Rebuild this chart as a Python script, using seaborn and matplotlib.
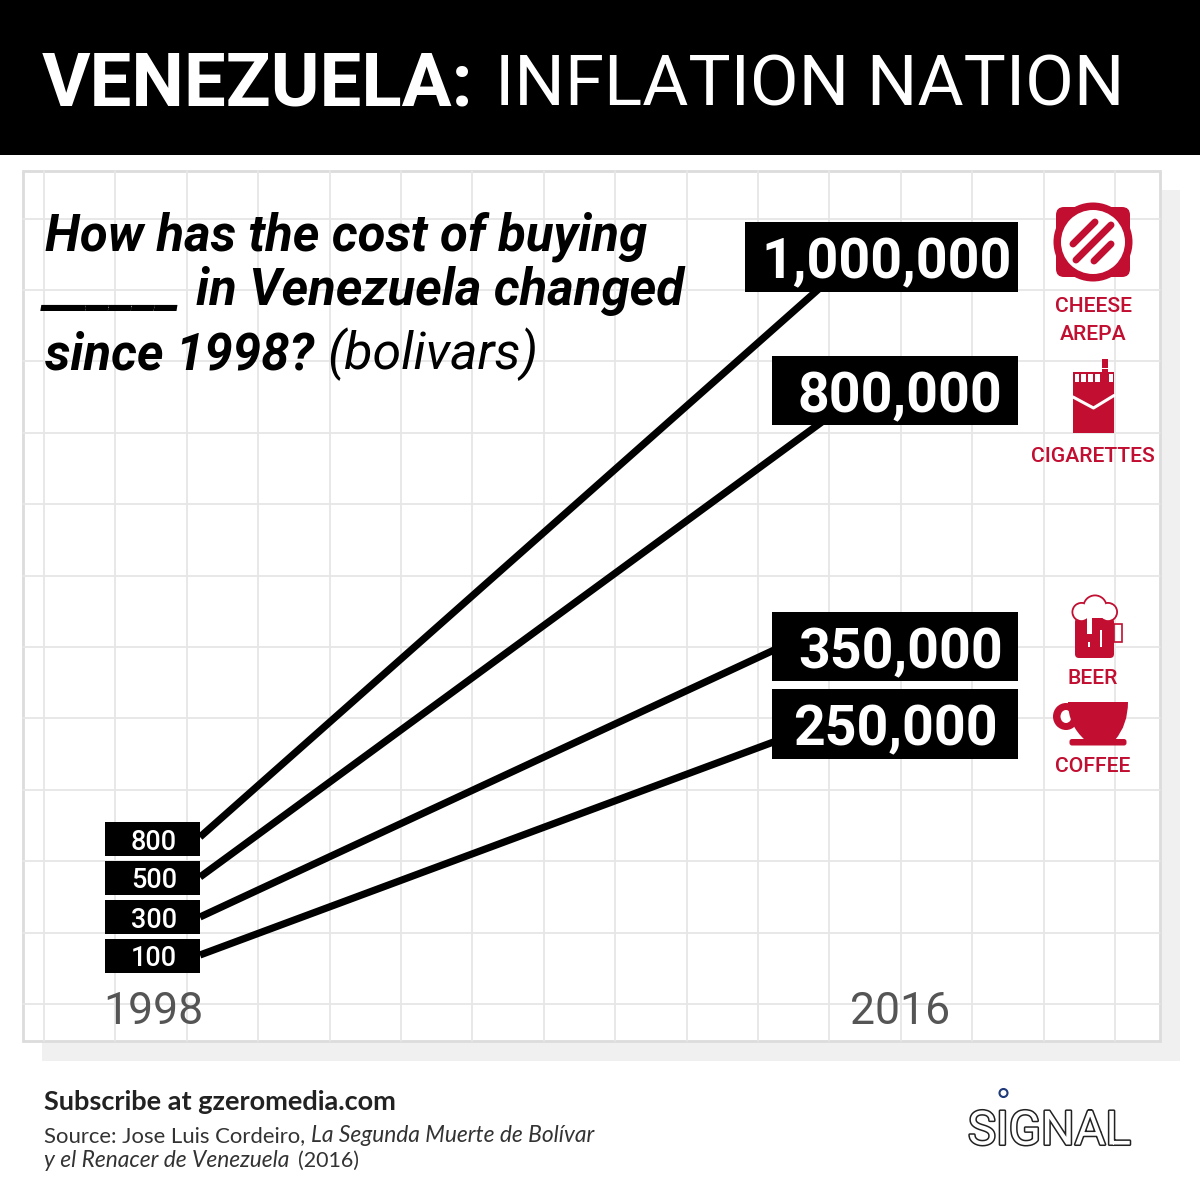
import numpy as np
import pandas as pd
import matplotlib
matplotlib.use("Agg")
import matplotlib.pyplot as plt
import seaborn as sns
import matplotlib.patheffects as pe
from matplotlib.patches import Rectangle, Circle, Ellipse, FancyBboxPatch, PathPatch
from matplotlib.path import Path

# ---- data ----
years = [1998, 2016]
items = ["CHEESE AREPA", "CIGARETTES", "BEER", "COFFEE"]
cost_1998 = [800, 500, 300, 100]
cost_2016 = [1000000, 800000, 350000, 250000]

# the graphic is not to scale: each price has its own height on the page
scale_values = [0, 100, 300, 500, 800, 250000, 350000, 800000, 1000000, 2000000]
scale_pixels = [1200, 955, 917, 877, 837, 721, 624, 416, 279, 0]

RED = "#c10e31"
GRID = "#e6e6e6"

sns.set_theme(style="white")
fig = plt.figure(figsize=(12, 12), dpi=100, facecolor="white")

# ---- background layer (page pixels) ----
bg = fig.add_axes([0, 0, 1, 1], zorder=0)
bg.set_xlim(0, 1200)
bg.set_ylim(1200, 0)
bg.axis("off")
bg.add_patch(Rectangle((42, 190), 1138, 871, fc="#f0f0f0", ec="none"))
bg.add_patch(Rectangle((23, 171), 1137, 870, fc="white", ec="none"))
for k in range(16):
    gx = 44 + k * 71.4
    bg.plot([gx, gx], [171, 1041], color=GRID, lw=1.3)
for k in range(12):
    gy = 218.6 + k * 71.4
    bg.plot([23, 1160], [gy, gy], color=GRID, lw=1.3)
bg.add_patch(Rectangle((23, 171), 1137, 870, fc="none", ec="#dcdcdc", lw=2))

# ---- lines ----
df = pd.DataFrame({
    "year": years * len(items),
    "item": [i for i in items for _ in years],
    "cost": [c for pair in zip(cost_1998, cost_2016) for c in pair],
})
ax = fig.add_axes([0, 0, 1, 1], zorder=1)
ax.patch.set_alpha(0)
sns.lineplot(data=df, x="year", y="cost", hue="item", palette=["black"] * 4,
             estimator=None, legend=False, linewidth=5.2, solid_capstyle="butt", ax=ax)
px_up = -np.array(scale_pixels, dtype=float)
val = np.array(scale_values, dtype=float)
ax.set_yscale("function", functions=(lambda v: np.interp(v, val, px_up),
                                     lambda p: np.interp(p, px_up, val)))
ax.set_ylim(0, 2000000)
# 1998 sits at x=200 px and 2016 at x=830 px
per_year = (830 - 200) / (2016 - 1998)
ax.set_xlim(1998 - 200 / per_year, 1998 + 1000 / per_year)
ax.axis("off")

# ---- top layer ----
fg = fig.add_axes([0, 0, 1, 1], zorder=2)
fg.patch.set_alpha(0)
fg.set_xlim(0, 1200)
fg.set_ylim(1200, 0)
fg.axis("off")

# header
fg.add_patch(Rectangle((0, 0), 1200, 155, fc="black", ec="none"))
fg.text(42, 105, "VENEZUELA:", color="white", fontsize=53.5, fontweight="bold",
        family="Roboto", va="baseline")
fg.text(495, 105, "INFLATION NATION", color="white", fontsize=51, fontweight="normal",
        family="Roboto", va="baseline")

# question
fg.text(45, 250, "How has the cost of buying", fontsize=36.6, fontweight="bold",
        style="italic", family="Roboto", color="black", va="baseline")
fg.text(44, 305, "______", fontsize=38, fontweight="bold", style="italic",
        family="Roboto", color="black", va="baseline")
fg.text(196, 305, "in Venezuela changed", fontsize=36.6, fontweight="bold",
        style="italic", family="Roboto", color="black", va="baseline")
fg.text(45, 369, "since 1998?", fontsize=36.6, fontweight="bold", style="italic",
        family="Roboto", color="black", va="baseline")
fg.text(327, 369, "(bolivars)", fontsize=37.4, fontweight="normal", style="italic",
        family="Roboto", color="black", va="baseline")

# 1998 boxes
for value, top in zip(cost_1998, [822, 861, 900, 939]):
    fg.add_patch(Rectangle((105, top), 95, 33.5, fc="black", ec="none"))
    fg.text(154, top + 17, str(value), color="white", fontsize=19.5, family="Roboto",
            fontweight="medium", ha="center", va="center_baseline")

# 2016 boxes
boxes = [(745, 222, 273, 70, 887), (772, 356, 246, 69, 899.5),
         (772, 612, 246, 69, 900.5), (772, 689, 246, 70, 895.5)]
for value, (bx, by, bw, bh, tx) in zip(cost_2016, boxes):
    fg.add_patch(Rectangle((bx, by), bw, bh, fc="black", ec="none"))
    fg.text(tx, by + bh / 2 + 1, f"{value:,}", color="white", fontsize=40,
            fontweight="bold", family="Roboto", ha="center", va="center_baseline")

# year labels
fg.text(153, 1008, str(years[0]), color="#555555", fontsize=32, family="Roboto",
        fontweight="normal", ha="center", va="center_baseline")
fg.text(900, 1008, str(years[1]), color="#555555", fontsize=32, family="Roboto",
        fontweight="normal", ha="center", va="center_baseline")

# item labels
for label, ly in [("CHEESE", 304), ("AREPA", 332), ("CIGARETTES", 454),
                  ("BEER", 677), ("COFFEE", 765)]:
    fg.text(1093, ly, label, color=RED, fontsize=15.2, family="Roboto", fontweight="medium",
            ha="center", va="center_baseline")

# ---- icons ----
# arepa
fg.add_patch(FancyBboxPatch((1062, 213), 62, 58, boxstyle="round,pad=6,rounding_size=8",
                            fc=RED, ec="none"))
fg.add_patch(Circle((1093, 242), 39.5, fc=RED, ec="none"))
fg.add_patch(Circle((1093, 242), 32, fc="white", ec="none"))
for (x0, y0, x1, y1) in [(1073, 244, 1095, 222), (1076, 260, 1111, 225), (1094, 261, 1111, 244)]:
    fg.plot([x0, x1], [y0, y1], color=RED, lw=5, solid_capstyle="round")

# cigarettes
fg.add_patch(Rectangle((1073, 372), 41, 61, fc=RED, ec="none"))
fg.add_patch(Rectangle((1074.5, 374), 38, 7.5, fc="white", ec="none"))
for tx in [1079, 1086, 1093, 1100]:
    fg.add_patch(Rectangle((tx, 374), 2, 7.5, fc=RED, ec="none"))
fg.add_patch(Rectangle((1102, 359), 6, 13, fc=RED, ec="none"))
fg.add_patch(Rectangle((1102, 367.5), 6, 1, fc="white", ec="none"))
fg.add_patch(Rectangle((1101, 372), 8, 10, fc=RED, ec="none"))
fg.plot([1073, 1093.5, 1114], [397, 408, 395.5], color="white", lw=2.2)

# beer
fg.add_patch(FancyBboxPatch((1078, 621), 33, 34, boxstyle="round,pad=3,rounding_size=4",
                            fc=RED, ec="none"))
fg.add_patch(Rectangle((1114, 623.5), 8, 18, fc="none", ec=RED, lw=1.2))
foam = [(1081.5, 612, 10), (1095, 607, 12.5), (1108, 612, 10)]
for (cx, cy, r) in foam:
    fg.add_patch(Circle((cx, cy), r, fc=RED, ec="none"))
for (cx, cy, r) in foam:
    fg.add_patch(Circle((cx, cy), r - 1.8, fc="white", ec="none"))
fg.add_patch(Rectangle((1076, 611), 37, 7, fc="white", ec="none"))
fg.add_patch(Rectangle((1087, 617), 5, 17, fc="white", ec="none"))
fg.add_patch(Rectangle((1088, 642), 2, 5, fc="white", ec="none"))
fg.add_patch(Rectangle((1100, 630), 2.2, 17, fc="white", ec="none"))

# coffee
fg.add_patch(Ellipse((1066, 716.5), 26, 27, fc=RED, ec="none"))
fg.add_patch(Ellipse((1066, 716.5), 11, 13, fc="white", ec="none"))
cup = Path([(1068, 702), (1128, 702), (1128, 725), (1115, 740), (1100, 740),
            (1085, 740), (1068, 725), (1068, 702), (1068, 702)],
           [Path.MOVETO, Path.LINETO, Path.CURVE3, Path.CURVE3, Path.LINETO,
            Path.LINETO, Path.CURVE3, Path.CURVE3, Path.CLOSEPOLY])
fg.add_patch(PathPatch(cup, fc=RED, ec="none"))
fg.add_patch(FancyBboxPatch((1071, 740.5), 54, 3.5, boxstyle="round,pad=1.5,rounding_size=2.5",
                            fc=RED, ec="none"))

# ---- footer ----
fg.text(44, 1110, "Subscribe at gzeromedia.com", fontsize=19.5, fontweight="bold",
        family="Lato", color="#222222", va="baseline")
fg.text(44, 1142, "Source: Jose Luis Cordeiro,", fontsize=15.9, family="Lato",
        color="#333333", va="baseline")
fg.text(311, 1142, "La Segunda Muerte de Bolívar", fontsize=16.4, style="italic",
        family="Lato", color="#333333", va="baseline")
fg.text(44, 1167, "y el Renacer de Venezuela", fontsize=16.4, style="italic",
        family="Lato", color="#333333", va="baseline")
fg.text(298, 1167, "(2016)", fontsize=15.5, family="Lato", color="#333333", va="baseline")

# logo
logo = fg.text(1049.5, 1127, "SIGNAL", fontsize=34, family="Roboto", fontweight="normal",
               color="white", ha="center", va="center_baseline")
logo.set_path_effects([pe.withStroke(linewidth=2.2, foreground="#222222")])
fg.add_patch(Circle((1003.5, 1093), 4, fc="white", ec="#1f3a7a", lw=1.5))

fig.savefig("out.png", dpi=100)
